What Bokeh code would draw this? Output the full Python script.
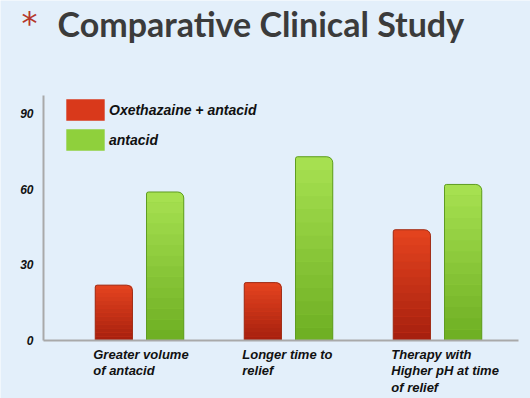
from bokeh.plotting import figure
from bokeh.models import (Range1d, FixedTicker, Legend, LegendItem, Label)
from bokeh.embed import file_html
from bokeh.resources import INLINE

categories = ["Greater volume\nof antacid", "Longer time to\nrelief", "Therapy with\nHigher pH at time\nof relief"]
series_names = ["Oxethazaine + antacid", "antacid"]
oxethazaine = [22, 23, 44]
antacid = [59, 73, 62]
y_ticks = [0, 30, 60, 90]

W, H = 530, 398
# layout of the frame (pixels): whole canvas is the frame, axes are fixed inside it
PX, PY = 149.0, 2.517          # pixels per category / per value unit
X0, Y0 = 139.0, 340.0          # canvas position of first category centre / value 0
AX_L, AX_R, AX_T = 43.0, 518.0, 95.0

x_start = -X0 / PX
y_start = -(H - Y0) / PY
p = figure(width=W, height=H, output_backend="svg", toolbar_location=None,
           x_range=Range1d(x_start, x_start + W / PX),
           y_range=Range1d(y_start, y_start + H / PY),
           min_border=0)
bg = "#e3effa"
p.background_fill_color = bg
p.border_fill_color = bg
p.outline_line_color = None
p.grid.grid_line_color = None

off, bw = 0.172, 0.25
xs = list(range(len(categories)))

def hexmix(c1, c2, t):
    a = [int(c1[i:i+2], 16) for i in (1, 3, 5)]
    b = [int(c2[i:i+2], 16) for i in (1, 3, 5)]
    return "#%02x%02x%02x" % tuple(round(a[j] + (b[j] - a[j]) * t) for j in range(3))

def gradient_bars(xpos, vals, bottom_c, top_c, edge_c, mid_c):
    full = p.vbar(x=xpos, top=vals, width=bw, fill_color=mid_c, line_color=None,
                  border_radius=(2, 6, 0, 0))
    n = 14
    for k in range(n):
        t0, t1 = k / n, (k + 1) / n
        col = hexmix(bottom_c, top_c, (t0 + t1) / 2)
        rad = (2, 6, 0, 0) if k == n - 1 else 0
        p.vbar(x=xpos, bottom=[v * t0 for v in vals], top=[v * t1 + (0 if k == n - 1 else 0.05) for v in vals],
               width=bw, fill_color=col, line_color=None, border_radius=rad)
    p.vbar(x=xpos, top=vals, width=bw, fill_color=None, line_color=edge_c, line_width=1,
           border_radius=(2, 6, 0, 0))
    return full

r1 = gradient_bars([x - off for x in xs], oxethazaine, "#a51f0e", "#e5441f", "#a0301a", "#d9391b")
r2 = gradient_bars([x + off for x in xs], antacid, "#6dae22", "#a8e252", "#5f9d22", "#8fd03c")

x_axis_left = x_start + AX_L / PX
x_axis_right = x_start + AX_R / PX
y_axis_top = (Y0 - AX_T) / PY

# axes (fixed inside the frame)
p.yaxis.fixed_location = x_axis_left
p.yaxis.bounds = (0, y_axis_top)
p.yaxis.ticker = FixedTicker(ticks=y_ticks)
p.yaxis.major_tick_line_color = None
p.yaxis.minor_tick_line_color = None
p.yaxis.axis_line_color = "#a9a9a9"
p.yaxis.axis_line_width = 2
p.yaxis.major_label_text_font = "Liberation Sans"
p.yaxis.major_label_text_font_style = "bold italic"
p.yaxis.major_label_text_font_size = "12px"
p.yaxis.major_label_text_color = "#111111"
p.yaxis.major_label_standoff = 4

p.xaxis.fixed_location = 0
p.xaxis.bounds = (x_axis_left, x_axis_right)
p.xaxis.ticker = FixedTicker(ticks=[])
p.xaxis.major_tick_line_color = None
p.xaxis.minor_tick_line_color = None
p.xaxis.axis_line_color = "#a9a9a9"
p.xaxis.axis_line_width = 2

tick_pos = [x - off - bw / 2 for x in xs]
for tp, cat in zip(tick_pos, categories):
    p.add_layout(Label(x=tp, y=(H - Y0) - 6, x_units="data", y_units="screen", text=cat,
                       x_offset=-2, text_align="left", text_baseline="top",
                       text_font="Liberation Sans", text_font_style="bold italic",
                       text_font_size="13px", text_color="#111111", text_line_height=1.12))

legend = Legend(items=[LegendItem(label=series_names[0], renderers=[r1]),
                       LegendItem(label=series_names[1], renderers=[r2])],
                location=(61, H - 153), orientation="vertical",
                glyph_width=48, glyph_height=27, spacing=3, padding=0, margin=0,
                label_standoff=0, background_fill_alpha=0, border_line_alpha=0,
                label_text_font="Liberation Sans", label_text_font_style="bold italic",
                label_text_font_size="14px", label_text_color="#111111")
p.add_layout(legend)

# screen units are measured from the frame's bottom-left corner
p.add_layout(Label(x=57, y=H - 23, x_units="screen", y_units="screen", text="Comparative Clinical Study",
                   text_font="Lato", text_font_style="bold", text_font_size="34px", text_color="#3b3b3b",
                   text_baseline="alphabetic"))
p.add_layout(Label(x=21, y=H - 22, x_units="screen", y_units="screen", text="*",
                   text_font="DejaVu Sans", text_font_size="32px", text_color="#b5372b",
                   text_baseline="alphabetic"))

open("out.html", "w").write(file_html(p, INLINE))
